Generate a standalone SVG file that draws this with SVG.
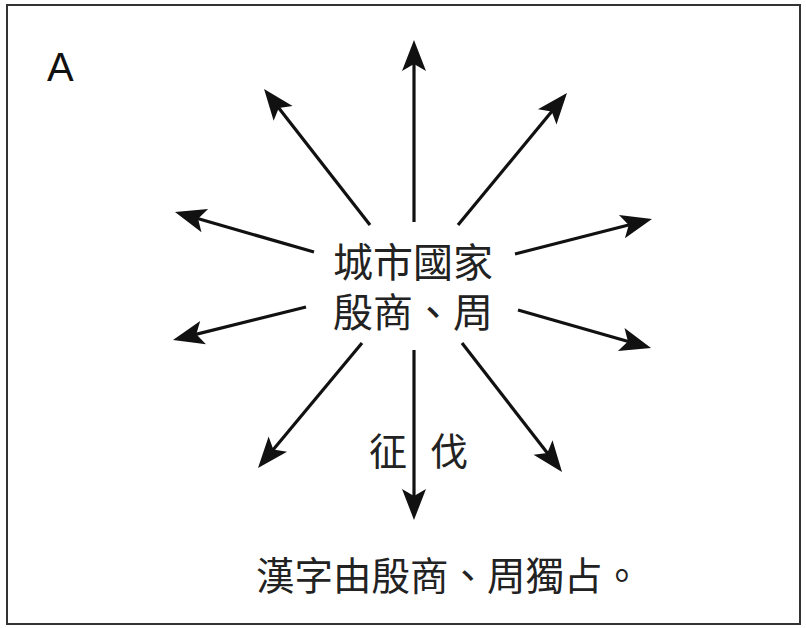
<svg xmlns="http://www.w3.org/2000/svg" width="806" height="628" viewBox="0 0 806 628">
<defs>
<marker id="ah" markerUnits="userSpaceOnUse" markerWidth="40" markerHeight="30" refX="21" refY="12" orient="auto" overflow="visible">
<path d="M0,0 L31,12 L0,24 L7,12 Z" fill="#111"/>
</marker>
</defs>
<style>
.arr{stroke:#111;stroke-width:3.2;fill:none;marker-end:url(#ah)}
.cjk{font-family:"Noto Sans CJK TC","Noto Sans CJK JP",sans-serif;fill:#222}
.lat{font-family:"Liberation Sans",Arial,sans-serif;fill:#111}
</style>
<rect x="7" y="5" width="793" height="619" fill="#fff" stroke="#333" stroke-width="2"/>
<g id="label-A"><text class="lat" x="47" y="81" font-size="40">A</text></g>
<g id="center">
<text class="cjk" font-size="40" text-anchor="middle"><tspan x="413" y="277">城市國家</tspan><tspan x="413" y="327">殷商、周</tspan></text>
</g>
<g id="conquest">
<text class="cjk" x="388" y="465" font-size="38" text-anchor="middle">征</text>
<text class="cjk" x="449" y="465" font-size="38" text-anchor="middle">伐</text>
</g>
<g id="caption"><text class="cjk" x="256" y="590" font-size="38.5">漢字由殷商、周獨占。</text></g>
<g id="connectors">
<line class="arr" x1="414" y1="222" x2="414" y2="50"/>
<line class="arr" x1="370" y1="225" x2="270.2" y2="96.9"/>
<line class="arr" x1="458" y1="225" x2="560.6" y2="100.7"/>
<line class="arr" x1="314" y1="252" x2="184.6" y2="214.8"/>
<line class="arr" x1="515" y1="254" x2="642.3" y2="221.5"/>
<line class="arr" x1="306" y1="307" x2="182.7" y2="337.6"/>
<line class="arr" x1="518" y1="310" x2="641.4" y2="345.3"/>
<line class="arr" x1="362" y1="343" x2="264.4" y2="460.3"/>
<line class="arr" x1="462" y1="343" x2="555.9" y2="464.1"/>
<line class="arr" x1="414" y1="350" x2="414" y2="510"/>
</g>
</svg>
